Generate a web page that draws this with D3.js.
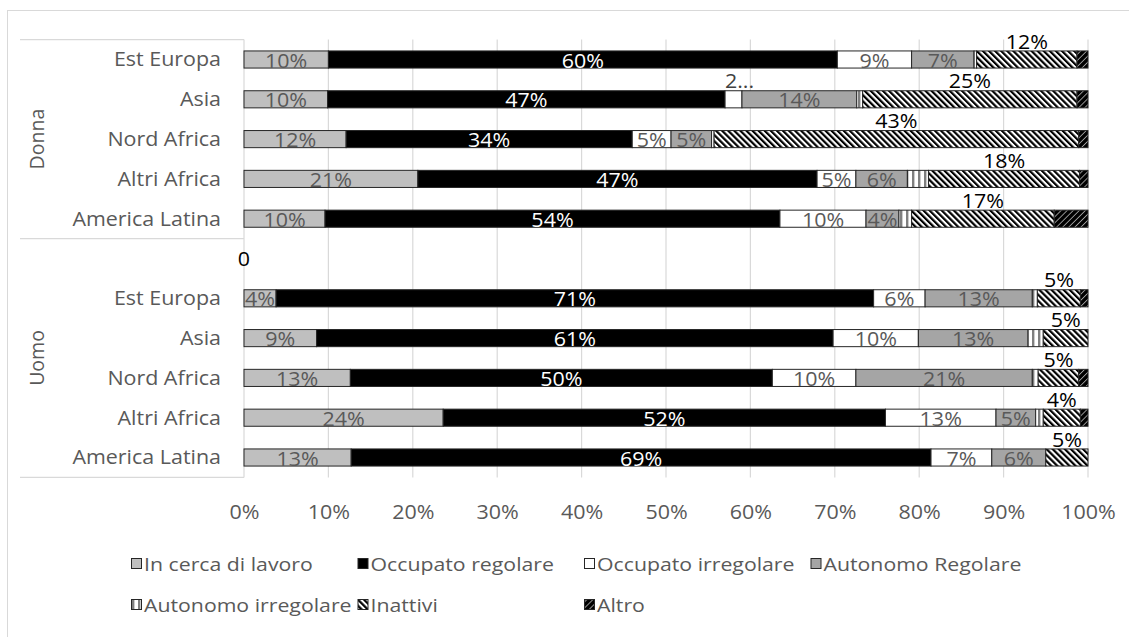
<!DOCTYPE html>
<html>
<head>
<meta charset="utf-8">
<script src="https://cdn.jsdelivr.net/npm/d3@7"></script>
<style>
  body { margin: 0; background: #fff; }
  svg { display: block; }
  text { font-family: "Open Sans", sans-serif; }
</style>
</head>
<body>
<svg id="chart" width="1129" height="637"></svg>
<script>
// Category rows, top to bottom: five Donna rows, an empty spacer row, five Uomo rows
const groups = ["Donna", "Uomo"];
const rowGroup = ["Donna", "Donna", "Donna", "Donna", "Donna",
                  "Uomo", "Uomo", "Uomo", "Uomo", "Uomo", "Uomo"];
const rowLabel = ["Est Europa", "Asia", "Nord Africa", "Altri Africa", "America Latina",
                  "",
                  "Est Europa", "Asia", "Nord Africa", "Altri Africa", "America Latina"];

const seriesNames = ["In cerca di lavoro", "Occupato regolare", "Occupato irregolare",
                     "Autonomo Regolare", "Autonomo irregolare", "Inattivi", "Altro"];

// Shares per row (same order as rowLabel)
const inCerca     = [0.100, 0.099, 0.121, 0.206, 0.096, 0, 0.038, 0.086, 0.126, 0.236, 0.127];
const occRegolare = [0.603, 0.471, 0.339, 0.473, 0.539, 0, 0.708, 0.612, 0.500, 0.524, 0.687];
const occIrregol  = [0.088, 0.020, 0.046, 0.046, 0.102, 0, 0.061, 0.101, 0.099, 0.131, 0.072];
const autRegolare = [0.074, 0.136, 0.048, 0.061, 0.039, 0, 0.127, 0.130, 0.209, 0.047, 0.064];
const autIrregol  = [0.003, 0.007, 0.003, 0.025, 0.015, 0, 0.006, 0.018, 0.007, 0.009, 0.000];
const inattivi    = [0.119, 0.254, 0.432, 0.179, 0.169, 0, 0.051, 0.053, 0.048, 0.044, 0.050];
const altro       = [0.013, 0.013, 0.011, 0.010, 0.040, 0, 0.009, 0.000, 0.011, 0.009, 0.000];

const xTicks = [0, 0.1, 0.2, 0.3, 0.4, 0.5, 0.6, 0.7, 0.8, 0.9, 1.0];

const seriesValues = [inCerca, occRegolare, occIrregol, autRegolare, autIrregol, inattivi, altro];

const svg = d3.select("#chart");
const plot = { left: 244, right: 1088, top: 39.6, bottom: 477.4 };
const GRID = "#d9d9d9", TXT = "#595959", EDGE = "#262626";
const FONT = 19.5;
const SX = 1.1;          // horizontal text stretch
const LEG_FONT = 19, LEG_SX = 1.12;

// text placed at (x, y) and stretched horizontally around its anchor
function putText(g, x, y, str, opts = {}) {
  return g.append("text")
    .attr("transform", `translate(${x},${y}) scale(${opts.sx || SX},1)`)
    .attr("text-anchor", opts.anchor || "middle")
    .attr("dy", opts.dy || null)
    .attr("font-size", opts.size || FONT)
    .attr("fill", opts.fill || TXT)
    .text(str);
}

// ---- patterns ----
const defs = svg.append("defs");
function stripes(id, period, angle, bg, fg, fgWidth) {
  const p = defs.append("pattern").attr("id", id)
    .attr("patternUnits", "userSpaceOnUse")
    .attr("width", period).attr("height", period)
    .attr("patternTransform", `rotate(${angle})`);
  p.append("rect").attr("width", period).attr("height", period).attr("fill", bg);
  p.append("rect").attr("width", fgWidth).attr("height", period).attr("fill", fg);
}
stripes("pAutIrr", 6, 0, "#ffffff", "#7f7f7f", 2.4);
stripes("pInattivi", 4.3, -45, "#ffffff", "#000000", 2.2);
stripes("pAltro", 4.3, 45, "#000000", "#a0a0a0", 0.9);

const fills = ["#bfbfbf", "#000000", "#ffffff", "#a5a5a5",
               "url(#pAutIrr)", "url(#pInattivi)", "url(#pAltro)"];

// ---- outer frame ----
svg.append("rect").attr("x", 7.5).attr("y", 10.5).attr("width", 1300).attr("height", 800)
  .attr("fill", "none").attr("stroke", GRID).attr("stroke-width", 1);

// ---- scales ----
const rowKeys = rowLabel.map((d, i) => rowGroup[i] + "|" + i);
const x = d3.scaleLinear().domain([0, 1]).range([plot.left, plot.right]);
const y = d3.scaleBand().domain(rowKeys).range([plot.top, plot.bottom]).paddingInner(0.57).paddingOuter(0.285);
const step = y.step();
const mid = k => y(k) + y.bandwidth() / 2;

// ---- gridlines ----
svg.append("g").selectAll("line").data(xTicks.filter(t => t > 0)).join("line")
  .attr("x1", d => x(d)).attr("x2", d => x(d))
  .attr("y1", plot.top).attr("y2", plot.bottom)
  .attr("stroke", GRID).attr("stroke-width", 1.2);

// category axis line
svg.append("line").attr("x1", plot.left).attr("x2", plot.left)
  .attr("y1", plot.top).attr("y2", plot.bottom).attr("stroke", GRID).attr("stroke-width", 1.2);

// group separators
const groupBounds = groups.map(g => {
  const idx = rowGroup.map((d, i) => d === g ? i : -1).filter(i => i >= 0);
  const gap = (step - y.bandwidth()) / 2;
  const y0 = y(rowKeys[idx[0]]) - gap;
  const y1 = y(rowKeys[idx[idx.length - 1]]) + y.bandwidth() + gap;
  return { g, y0, y1 };
});
const sepYs = [groupBounds[0].y0, groupBounds[0].y1, groupBounds[1].y1];
svg.append("g").selectAll("line").data(sepYs).join("line")
  .attr("x1", 20).attr("x2", plot.left)
  .attr("y1", d => d).attr("y2", d => d)
  .attr("stroke", GRID).attr("stroke-width", 1.2);

svg.append("g").selectAll("text").data(groupBounds).join("text")
  .attr("transform", d => `translate(37,${(d.y0 + d.y1) / 2}) rotate(-90)`)
  .attr("text-anchor", "middle").attr("dy", "0.35em")
  .attr("font-size", FONT).attr("fill", TXT)
  .text(d => d.g);

// category labels
const catG = svg.append("g");
rowKeys.forEach((k, i) => putText(catG, 221, mid(k), rowLabel[i], { anchor: "end", dy: "0.35em" }));

// ---- x axis ----
const xAxis = svg.append("g").attr("transform", `translate(0,${plot.bottom})`)
  .call(d3.axisBottom(x).tickValues(xTicks).tickFormat(d3.format(".0%")).tickSize(0).tickPadding(28));
xAxis.select(".domain").remove();
xAxis.selectAll("text").attr("font-size", FONT).attr("fill", TXT)
  .attr("font-family", "Open Sans").attr("transform", `scale(${SX},1)`);

// ---- stacked bars ----
const rows = rowKeys.map((k, i) => {
  let acc = 0;
  const segs = seriesValues.map((vals, s) => {
    const v = vals[i];
    const seg = { key: k, row: i, s, v, x0: acc, x1: acc + v };
    acc += v;
    return seg;
  });
  return { key: k, row: i, segs, total: acc };
});

const segs = rows.flatMap(r => r.segs).filter(d => d.v > 0);
svg.append("g").selectAll("rect").data(segs).join("rect")
  .attr("x", d => x(d.x0)).attr("width", d => x(d.x1) - x(d.x0))
  .attr("y", d => y(d.key)).attr("height", y.bandwidth())
  .attr("fill", d => fills[d.s])
  .attr("stroke", EDGE).attr("stroke-width", 1);

// ---- data labels ----
const pct = d3.format(".0%");
const labels = svg.append("g");
segs.filter(d => d.s <= 3).forEach(d => {
  const w = x(d.x1) - x(d.x0);
  const cx = (x(d.x0) + x(d.x1)) / 2;
  if (w >= 24) {
    putText(labels, cx, mid(d.key) + 8, pct(d.v), { fill: d.s === 1 ? "#ffffff" : TXT });
  } else {
    // label does not fit: shown shortened above the bar
    putText(labels, cx + 6, mid(d.key) - 11, pct(d.v).slice(0, 1) + "...", { fill: "#404040" });
  }
});
// Inattivi labels sit above the bar
segs.filter(d => d.s === 5).forEach(d => {
  const cx = (x(d.x0) + x(d.x1)) / 2;
  putText(labels, cx, mid(d.key) - 11, pct(d.v), { fill: "#000000" });
});
// empty spacer row shows its zero total
rows.filter(r => r.total === 0).forEach(r => {
  putText(labels, x(0), mid(r.key) + 7.5, d3.format("d")(r.total), { fill: "#000000" });
});

// ---- legend ----
const legend = svg.append("g");
const legendRows = [[0, 1, 2, 3], [4, 5, 6]];
const legendX0 = 131, legendSlot = 226.5, legendYs = [564, 605];
legendRows.forEach((items, r) => {
  let prevEnd = -Infinity;
  items.forEach((s, c) => {
    const lx = Math.max(legendX0 + c * legendSlot, prevEnd + 4);
    const ly = legendYs[r];
    legend.append("rect").attr("x", lx + 0.5).attr("y", ly - 5.5)
      .attr("width", 10).attr("height", 10)
      .attr("fill", fills[s]).attr("stroke", EDGE).attr("stroke-width", 1);
    const t = putText(legend, lx + 13, ly, seriesNames[s],
      { anchor: "start", dy: "0.35em", size: LEG_FONT, sx: LEG_SX });
    prevEnd = lx + 13 + t.node().getComputedTextLength() * LEG_SX;
  });
});
</script>
</body>
</html>
